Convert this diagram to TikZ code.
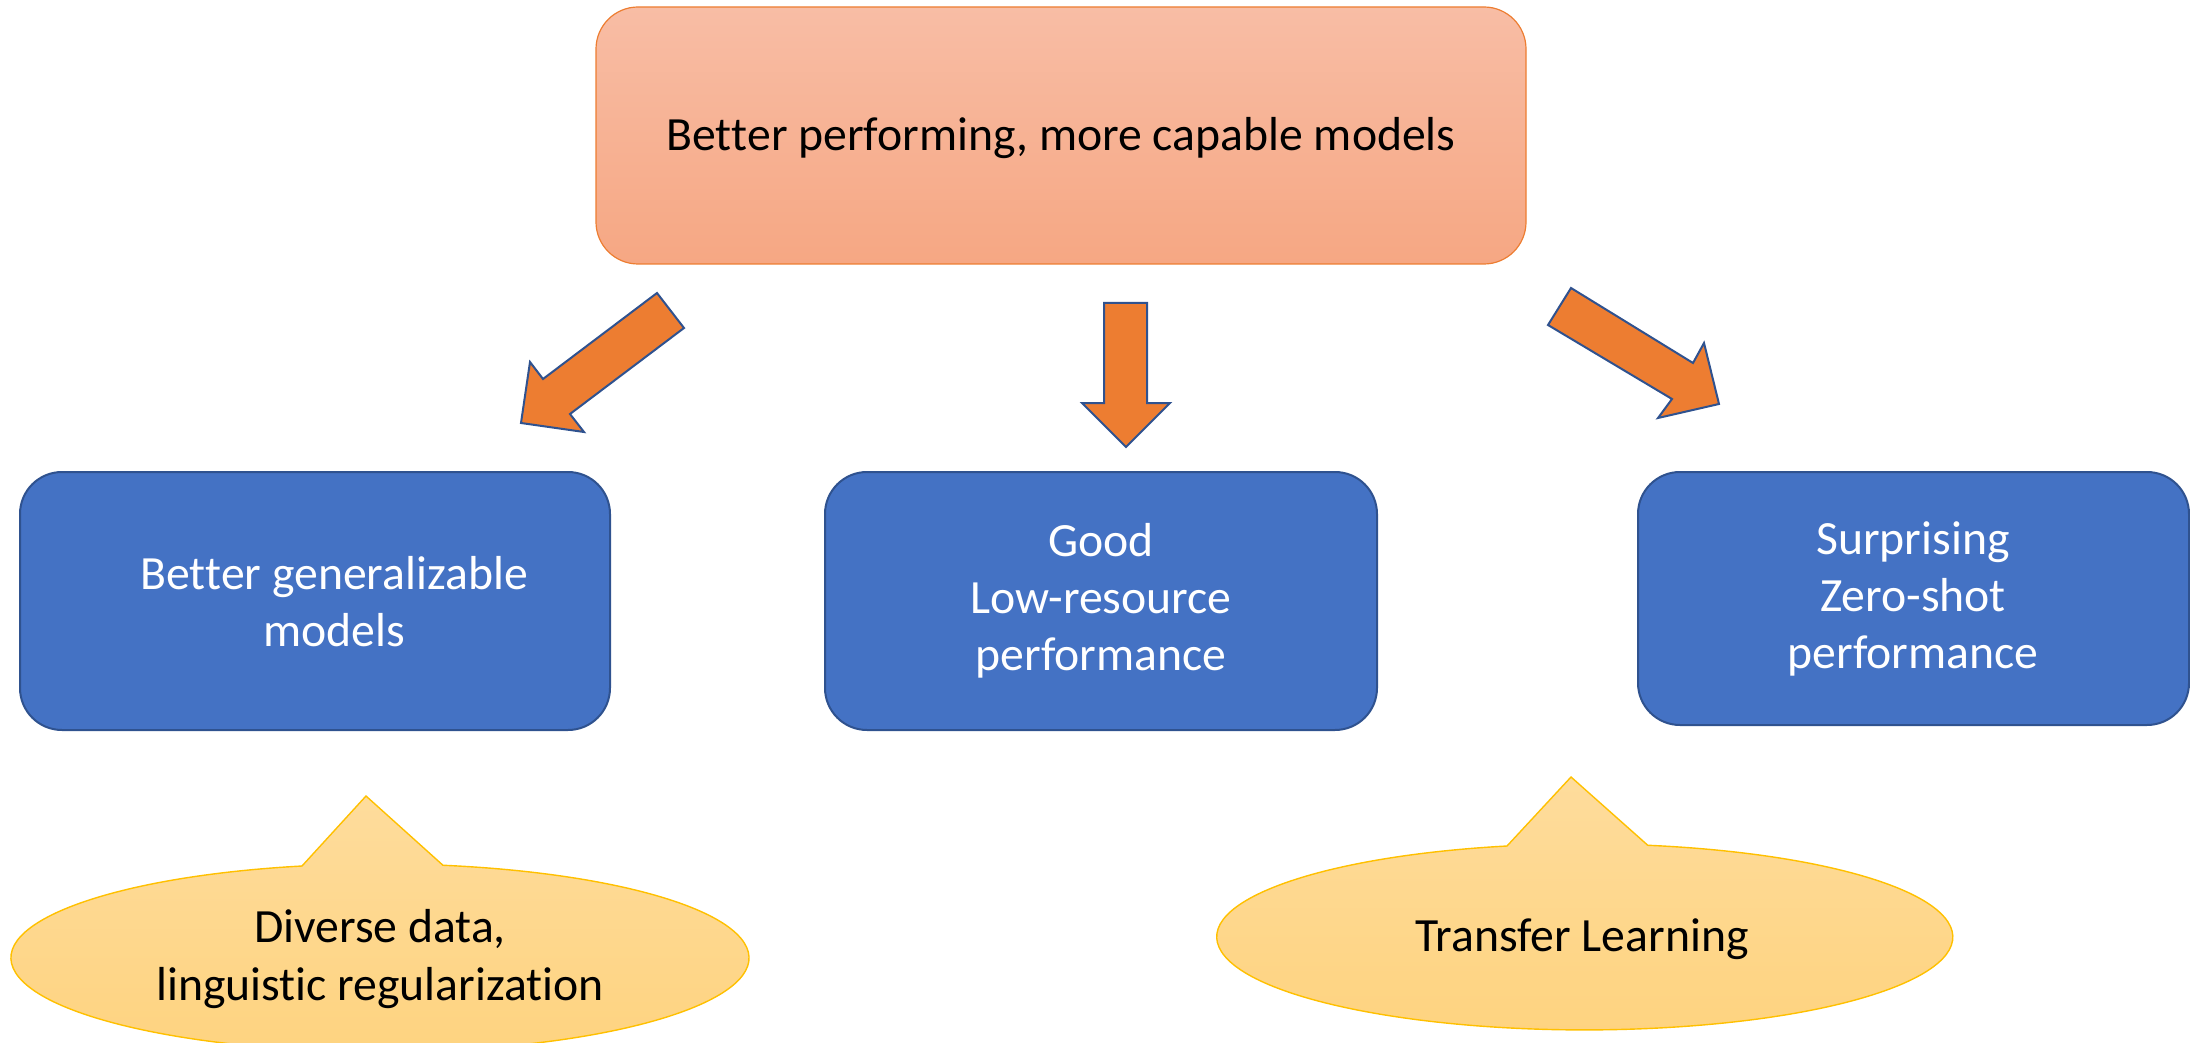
\documentclass[tikz,border=0pt]{standalone}
\usepackage{fontspec}
\setmainfont{Carlito}[Ligatures={NoCommon,NoContextual}, Contextuals=NoAlternate, RawFeature=-calt]
\definecolor{topfillA}{RGB}{248,189,165}
\definecolor{topfillB}{RGB}{246,167,131}
\definecolor{topline}{RGB}{237,125,49}
\definecolor{boxblue}{RGB}{68,114,196}
\definecolor{boxline}{RGB}{47,82,143}
\definecolor{arrowfill}{RGB}{237,125,49}
\definecolor{callA}{RGB}{254,220,156}
\definecolor{callB}{RGB}{254,211,127}
\definecolor{callline}{RGB}{255,192,0}
\tikzset{
  txt/.style={font=\fontsize{23.85}{28.6}\selectfont, align=center, inner sep=0pt},
  topbox/.style={draw=topline, line width=0.6pt, top color=topfillA, bottom color=topfillB,
    rounded corners=21pt},
  bluebox/.style={draw=boxline, line width=1pt, fill=boxblue, rounded corners=21pt},
  blockarrow/.style={draw=boxline, line width=1pt, fill=arrowfill, line join=miter},
  callout/.style={draw=callline, line width=0.7pt, top color=callA, bottom color=callB},
}
\begin{document}
\begin{tikzpicture}[x=0.5pt, y=0.5pt]
\useasboundingbox (0,0) rectangle (2190,-1043);

% boxes
\path[topbox] (596,-7) rectangle (1526,-264);
\node[txt] (top) at (1061,-138) {Bet\kern0pt ter performing, more capable models};

\path[bluebox] (20,-472) rectangle (610,-730);
\node[txt, text=white] (gen) at (334,-602) {Bet\kern0pt ter generalizable\\models};

\path[bluebox] (825,-472) rectangle (1377,-730);
\node[txt, text=white] (low) at (1101,-601) {Good\\Low-resource\\performance};

\path[bluebox] (1638,-472) rectangle (2189,-725);
\node[txt, text=white] (zero) at (1913,-599) {Surprising\\Zero-shot\\performance};

% block arrows
\path[blockarrow] (657,-293) -- (543,-379) -- (530,-362) -- (521,-423)
  -- (584,-432) -- (570,-414) -- (684,-328) -- cycle;
\path[blockarrow] (1104,-303) -- (1104,-403) -- (1082,-403) -- (1126,-447)
  -- (1170,-403) -- (1147,-403) -- (1147,-303) -- cycle;
\path[blockarrow] (1571,-288) -- (1693,-363) -- (1704,-343) -- (1719,-404)
  -- (1658,-418) -- (1672,-399) -- (1548,-325) -- cycle;

% callouts
\path[callout] (302,-866) arc[start angle=102.2, end angle=440.17, x radius=369, y radius=94]
  -- (366,-796) -- cycle;
\node[txt] (div) at (380,-959) {Diverse data,\\linguistic regularization};

\path[callout] (1507,-846) arc[start angle=102.2, end angle=440.14, x radius=368, y radius=93]
  -- (1571,-777) -- cycle;
\node[txt] (tl) at (1582,-939) {Transfer Learning};
\end{tikzpicture}
\end{document}
